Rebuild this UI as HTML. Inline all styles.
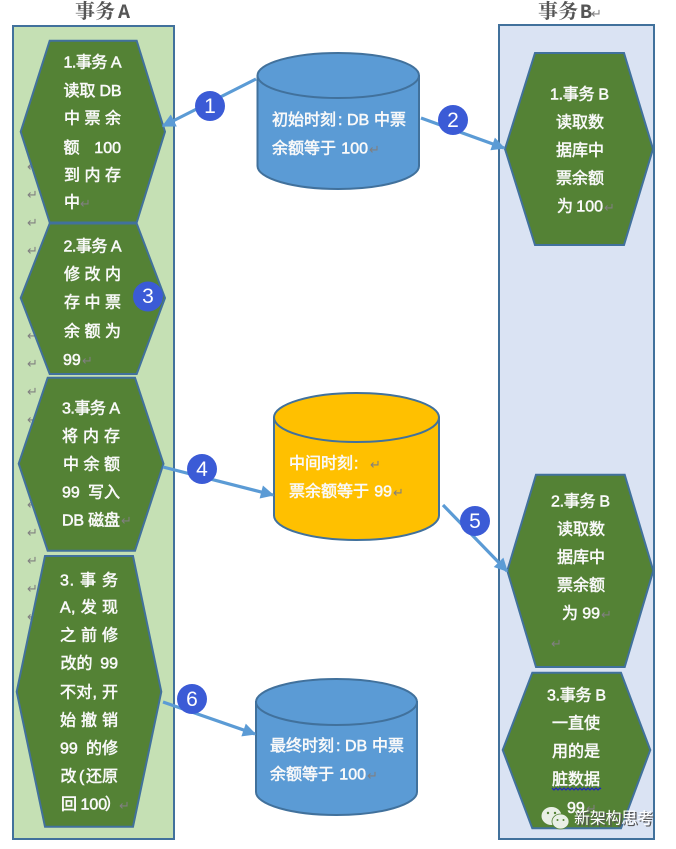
<!DOCTYPE html>
<html>
<head>
<meta charset="utf-8">
<style>
html,body{margin:0;padding:0;background:#fff}
svg{display:block}
.t{font-family:"Liberation Sans","Noto Sans CJK SC",sans-serif;font-size:16px;font-weight:normal;fill:#f9f9f9;stroke:#f9f9f9;stroke-width:.55}
.h{font-family:"Noto Serif CJK SC",serif;font-size:20px;font-weight:bold;fill:#555}
.ha{font-family:"Liberation Mono",monospace;font-size:20px;font-weight:bold;fill:#555}
.n{font-family:"Liberation Sans",sans-serif;font-size:21px;fill:#fff;text-anchor:middle}
.r{font-family:"DejaVu Sans",sans-serif;font-size:13px;fill:#807f80}
.w{font-family:"Liberation Sans","Noto Sans CJK SC",sans-serif;font-size:16px;fill:#fff}
.hx{fill:#548235;stroke:#41719c;stroke-width:2}
.cy{stroke:#41719c;stroke-width:2}
.ar{stroke:#5b9bd5;stroke-width:3.2;fill:none}
</style>
</head>
<body>
<svg width="676" height="849" viewBox="0 0 676 849" xmlns="http://www.w3.org/2000/svg">
<defs>
<marker id="a" viewBox="0 0 10 10" refX="9" refY="5" markerWidth="4.4" markerHeight="4.2" orient="auto"><path d="M0 0L10 5L0 10Z" fill="#5b9bd5"/></marker>
</defs>

<text class="h" x="75" y="18">事务</text><text class="ha" x="118" y="18">A</text>
<text class="h" x="538" y="18">事务</text><text class="ha" x="580" y="18">B</text>
<text class="r" x="591" y="18">↵</text>

<rect x="13" y="26" width="161" height="813" fill="#c5e0b4" stroke="#41719c" stroke-width="2"/>
<rect x="499" y="25" width="155" height="814" fill="#dae3f3" stroke="#41719c" stroke-width="2"/>

<g class="r">
<text x="27" y="171">↵</text><text x="27" y="199">↵</text><text x="27" y="227">↵</text><text x="27" y="255">↵</text>
<text x="27" y="340">↵</text><text x="27" y="368">↵</text><text x="27" y="396">↵</text><text x="27" y="424">↵</text>
<text x="27" y="509">↵</text><text x="27" y="537">↵</text><text x="27" y="565">↵</text><text x="27" y="593">↵</text><text x="27" y="621">↵</text>
</g>

<polygon class="hx" points="20.7,131.7 49.7,40.7 136.7,40.7 165,131.7 136.7,222.5 49.7,222.5"/>
<polygon class="hx" points="20.7,298 49.7,223.5 136.7,223.5 165,298 136.7,374 49.7,374"/>
<polygon class="hx" points="18.7,463.7 47.7,377.7 135,377.7 163.5,463.7 135,550.7 47.7,550.7"/>
<polygon class="hx" points="16.7,691.7 45,556 133,556 161.3,691.7 133,826.7 45,826.7"/>
<polygon class="hx" points="505,149 535,53 624,53 653,149 624,245 535,245"/>
<polygon class="hx" points="507.3,570.7 536,474.7 624.7,474.7 653.3,570.7 624.7,667 536,667"/>
<polygon class="hx" points="502.7,750 532.3,672.7 621,672.7 650.3,750 621,828.3 532.3,828.3"/>

<!-- cylinders -->
<path class="cy" fill="#5b9bd5" d="M257.5 76V166A80.75 23 0 0 0 419 166V76Z"/>
<ellipse class="cy" fill="#5b9bd5" cx="338.25" cy="75.5" rx="80.75" ry="22.5"/>
<path class="cy" fill="#ffc000" d="M274 417.5V515.5A82.5 24.5 0 0 0 439 515.5V417.5Z"/>
<ellipse class="cy" fill="#ffc000" cx="356.5" cy="417.5" rx="82.5" ry="24.5"/>
<path class="cy" fill="#5b9bd5" d="M256 702V792A80.5 23 0 0 0 417 792V702Z"/>
<ellipse class="cy" fill="#5b9bd5" cx="336.5" cy="702" rx="80.5" ry="23"/>

<!-- arrows -->
<line class="ar" x1="256" y1="79" x2="163" y2="126" marker-end="url(#a)"/>
<line class="ar" x1="421" y1="118" x2="504" y2="148" marker-end="url(#a)"/>
<line class="ar" x1="163" y1="467" x2="273" y2="495" marker-end="url(#a)"/>
<line class="ar" x1="443" y1="505" x2="507" y2="571" marker-end="url(#a)"/>
<line class="ar" x1="163" y1="702" x2="255" y2="734" marker-end="url(#a)"/>

<!-- badges -->
<g fill="#3b5bd6">
<circle cx="210" cy="106" r="15"/><circle cx="453" cy="120" r="15"/><circle cx="148" cy="296.5" r="15"/>
<circle cx="202" cy="469" r="15"/><circle cx="475" cy="521" r="15"/><circle cx="192" cy="699" r="15"/>
</g>
<text class="n" x="210" y="113">1</text><text class="n" x="453" y="127">2</text><text class="n" x="148" y="303">3</text>
<text class="n" x="202" y="476">4</text><text class="n" x="475" y="528">5</text><text class="n" x="192" y="706">6</text>

<!-- A1 -->
<text class="t" x="63.5" y="67.5" textLength="58">1.事务 A</text>
<text class="t" x="63.5" y="96" textLength="58">读取 DB</text>
<text class="t" x="64" y="123.5" textLength="57">中 票 余</text>
<text class="t" x="63.5" y="153">额</text><text class="t" x="121" y="153" text-anchor="end">100</text>
<text class="t" x="64" y="180.5" textLength="57">到 内 存</text>
<text class="t" x="64" y="207.5">中</text><text class="r" x="80" y="208">↵</text>
<!-- A2 -->
<text class="t" x="63.5" y="251.5" textLength="58">2.事务 A</text>
<text class="t" x="64" y="279.5" textLength="57">修 改 内</text>
<text class="t" x="64" y="307.5" textLength="57">存 中 票</text>
<text class="t" x="64" y="336.5" textLength="57">余 额 为</text>
<text class="t" x="63" y="365">99</text><text class="r" x="82" y="365">↵</text>
<!-- A3 -->
<text class="t" x="62" y="413.5" textLength="58">3.事务 A</text>
<text class="t" x="62" y="441.5" textLength="58">将 内 存</text>
<text class="t" x="63" y="469.5" textLength="57">中 余 额</text>
<text class="t" x="62" y="497.5">99</text><text class="t" x="120" y="497.5" text-anchor="end">写入</text>
<text class="t" x="62" y="525.5" textLength="58">DB 磁盘</text><text class="r" x="121" y="525">↵</text>
<!-- A4 -->
<text class="t" x="60" y="585.5" textLength="58">3. 事 务</text>
<text class="t" x="60" y="612.5" textLength="58">A, 发 现</text>
<text class="t" x="60" y="640.5" textLength="58">之 前 修</text>
<text class="t" x="60.5" y="668.5">改的</text><text class="t" x="118" y="668.5" text-anchor="end">99</text>
<text class="t" x="60" y="697.5" textLength="58">不对, 开</text>
<text class="t" x="60" y="725.5" textLength="58">始 撤 销</text>
<text class="t" x="60" y="753.5">99</text><text class="t" x="118" y="753.5" text-anchor="end">的修</text>
<text class="t" x="60.5" y="781.5">改</text><text class="t" x="79" y="781.5">(</text><text class="t" x="118" y="781.5" text-anchor="end">还原</text>
<text class="t" x="61" y="809.5">回</text><text class="t" x="80.5" y="809.5">100</text><text class="t" x="105" y="809.5">）</text><text class="r" x="119" y="810">↵</text>
<!-- B1 -->
<text class="t" x="550" y="99.5" textLength="59">1.事务 B</text>
<text class="t" x="556" y="127.5">读取数</text>
<text class="t" x="556" y="155.5">据库中</text>
<text class="t" x="556" y="183.5">票余额</text>
<text class="t" x="557" y="211.5">为</text><text class="t" x="603" y="211.5" text-anchor="end">100</text><text class="r" x="604" y="212">↵</text>
<!-- B2 -->
<text class="t" x="551" y="506.5" textLength="59">2.事务 B</text>
<text class="t" x="557" y="534.5">读取数</text>
<text class="t" x="557" y="562.5">据库中</text>
<text class="t" x="557" y="590.5">票余额</text>
<text class="t" x="562" y="618.5">为</text><text class="t" x="600" y="618.5" text-anchor="end">99</text><text class="r" x="601" y="619">↵</text>
<text class="r" x="551" y="648">↵</text>
<!-- B3 -->
<text class="t" x="547" y="700.5" textLength="59">3.事务 B</text>
<text class="t" x="552" y="728.5">一直使</text>
<text class="t" x="552" y="756.5">用的是</text>
<text class="t" x="552" y="784.5">脏数据</text>
<path d="M552 788l2 2 2-2 2 2 2-2 2 2 2-2 2 2 2-2 2 2 2-2 2 2 2-2 2 2 2-2 2 2 2-2 2 2 2-2 2 2 2-2 2 2 2-2 2 2 2-2 1 1" fill="none" stroke="#1a1ad0" stroke-width="1"/>
<text class="t" x="567" y="813">99</text><text class="r" x="586" y="813">↵</text>
<!-- cylinder text -->
<text class="t" x="272" y="125">初始时刻</text><text class="t" x="338" y="125">:</text><text class="t" x="347" y="125">DB</text><text class="t" x="374" y="125">中票</text>
<text class="t" x="272" y="153.5">余额等于</text><text class="t" x="368" y="153.5" text-anchor="end">100</text><text class="r" x="369" y="154">↵</text>
<text class="t" x="289" y="468.5">中间时刻</text><text class="t" x="354" y="468.5">:</text><text class="r" x="370" y="469">↵</text>
<text class="t" x="289" y="496.5">票余额等于</text><text class="t" x="392" y="496.5" text-anchor="end">99</text><text class="r" x="393" y="497">↵</text>
<text class="t" x="270" y="751">最终时刻</text><text class="t" x="336" y="751">:</text><text class="t" x="345" y="751">DB</text><text class="t" x="372" y="751">中票</text>
<text class="t" x="270" y="779.5">余额等于</text><text class="t" x="366" y="779.5" text-anchor="end">100</text><text class="r" x="367" y="780">↵</text>

<!-- watermark -->
<ellipse cx="551.5" cy="816" rx="10" ry="9" fill="#e9efe6"/>
<ellipse cx="560.5" cy="821.5" rx="8.5" ry="7.5" fill="#e9efe6" stroke="#548235" stroke-width=".8"/>
<circle cx="548" cy="813" r="1.2" fill="#548235"/><circle cx="555" cy="813" r="1.2" fill="#548235"/>
<circle cx="557.5" cy="820" r="1" fill="#548235"/><circle cx="563.5" cy="820" r="1" fill="#548235"/>
<text class="w" x="575" y="824" textLength="79" style="fill:#555" transform="translate(.8 .8)">新架构思考</text>
<text class="w" x="574" y="823.5" textLength="79">新架构思考</text>
</svg>
</body>
</html>
